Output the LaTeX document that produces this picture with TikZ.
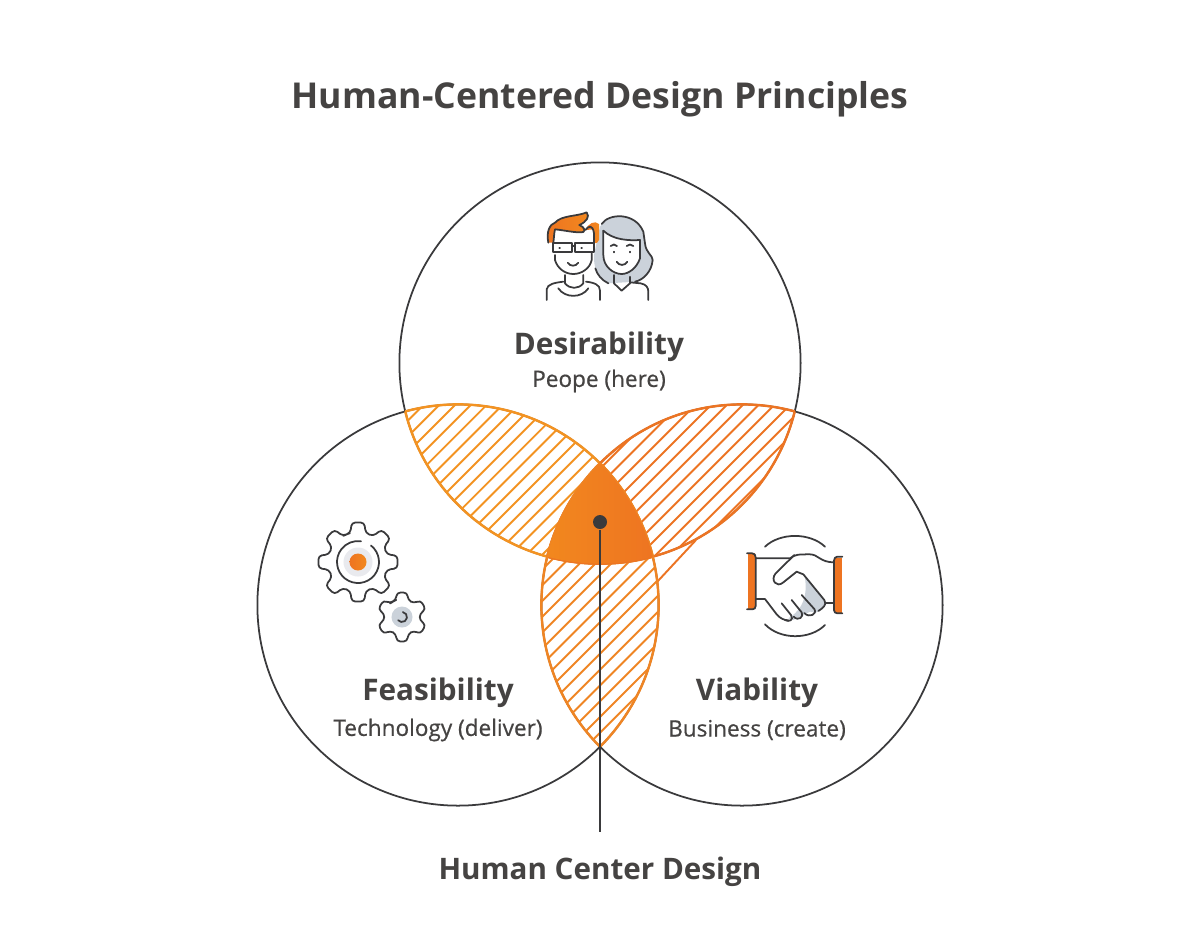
\documentclass[tikz,border=0pt]{standalone}
\usepackage{fontspec}
\setmainfont{Open Sans}
\newfontfamily\semifont[FakeBold=0.6]{Open Sans}
\definecolor{inkdark}{HTML}{3A3A3C}
\definecolor{textdark}{HTML}{454342}
\definecolor{hatchleft}{HTML}{F39322}
\definecolor{hatchright}{HTML}{EC7423}
\definecolor{hatchlow}{HTML}{EF8524}
\definecolor{orangea}{HTML}{F2881E}
\definecolor{orangeb}{HTML}{EE7421}
\definecolor{softgray}{HTML}{CBD2DA}
\definecolor{palegray}{HTML}{E9EAEE}
\tikzset{
  ring/.style={draw=inkdark, line width=0.5pt},
  hatchline/.style={line width=0.55pt},
  lensline/.style={line width=0.7pt},
  icon/.style={draw=inkdark, line width=0.5pt, line cap=round, line join=round},
  heading/.style={font=\bfseries\fontsize{10.13}{13}\selectfont, text=textdark, inner sep=0pt},
  topic/.style={font=\bfseries\fontsize{8.45}{10}\selectfont, text=textdark, inner sep=0pt},
  subtopic/.style={font=\semifont\fontsize{6.42}{8}\selectfont, text=textdark, inner sep=0pt},
  hub/.style={circle, fill=inkdark, inner sep=0pt, minimum size=0.14cm},
  hublabel/.style={font=\bfseries\fontsize{8.42}{11}\selectfont, text=textdark, inner sep=0pt, minimum height=0.79cm}
}
\newcommand{\cogwheel}[4]{% centre, teeth, outer radius, root radius
  \pgfmathsetmacro{\cogstep}{360/#2}
  \pgfmathsetmacro{\cogroot}{\cogstep*0.33}
  \pgfmathsetmacro{\cogtip}{\cogstep*0.20}
  \draw[icon, fill=white, rounded corners=1pt, shift={#1}] (-\cogstep*0.5-90:#4)
    \foreach \i in {1,...,#2} {
      -- ({\cogstep*(\i-1)-90-\cogroot}:#4) -- ({\cogstep*(\i-1)-90-\cogtip}:#3)
      -- ({\cogstep*(\i-1)-90+\cogtip}:#3) -- ({\cogstep*(\i-1)-90+\cogroot}:#4)
    } -- cycle;
}
\begin{document}
\begin{tikzpicture}[x=0.01cm, y=-0.01cm]
\useasboundingbox (0,0) rectangle (1200,950);
\def\ringtop{(600,363) circle [radius=2.005cm]}
\def\ringleft{(458,605) circle [radius=2.005cm]}
\def\ringright{(742,605) circle [radius=2.005cm]}

% circles
\draw[ring] \ringtop;
\draw[ring] \ringleft;
\draw[ring] \ringright;

% hatching
\begin{scope}
  \clip \ringtop; \clip \ringleft;
  \foreach \n in {-9,...,15} \draw[hatchline, hatchleft] ({939+15.8*\n},0) -- (0,{939+15.8*\n});
\end{scope}
\begin{scope}
  \clip \ringtop; \clip \ringright;
  \foreach \n in {-5,...,9} \draw[hatchline, hatchright] ({1116+15.8*\n},0) -- (0,{1116+15.8*\n});
\end{scope}
\begin{scope}
  \clip \ringleft; \clip \ringright;
  \foreach \n in {-5,...,14} \draw[hatchline, hatchlow] ({1159+15.8*\n},0) -- (0,{1159+15.8*\n});
\end{scope}
\draw[hatchline, hatchright] (657,582) -- (696,540);

% lens outlines
\begin{scope}
  \clip \ringleft; \draw[lensline, hatchleft] \ringtop;
\end{scope}
\begin{scope}
  \clip \ringtop; \draw[lensline, hatchleft] \ringleft;
\end{scope}
\begin{scope}
  \clip \ringright; \draw[lensline, hatchright] \ringtop;
\end{scope}
\begin{scope}
  \clip \ringtop; \draw[lensline, hatchright] \ringright;
\end{scope}
\begin{scope}
  \clip \ringleft; \draw[lensline, hatchlow] \ringright;
\end{scope}
\begin{scope}
  \clip \ringright; \draw[lensline, hatchlow] \ringleft;
\end{scope}

% centre
\begin{scope}
  \clip \ringtop; \clip \ringleft; \clip \ringright;
  \shade[left color=orangea, right color=orangeb] (545,460) rectangle (655,570);
\end{scope}

% people
\begin{scope}[shift={(520,200)}, scale=0.3333]
  \fill[softgray] (240,80) .. controls (265,40) and (345,35) .. (370,95) -- (375,130) .. controls (378,160) and (398,165) .. (398,180) .. controls (395,215) and (370,240) .. (345,245) -- (265,250) .. controls (235,235) and (220,205) .. (222,165) -- cycle;
  \fill[white] (250,92) .. controls (280,120) and (325,122) .. (360,120) -- (360,175) .. controls (350,205) and (325,222) .. (305,222) .. controls (280,222) and (250,200) .. (250,165) -- cycle;
  \draw[icon] (245,72) .. controls (265,40) and (345,35) .. (370,95) -- (375,130) .. controls (378,160) and (398,165) .. (398,180) .. controls (395,215) and (370,240) .. (345,245);
  \draw[icon] (265,250) .. controls (245,240) and (232,225) .. (226,205);
  \draw[icon] (250,92) .. controls (280,120) and (325,122) .. (360,120);
  \draw[icon] (360,120) -- (360,175) .. controls (350,205) and (325,222) .. (305,222) .. controls (280,222) and (250,200) .. (250,165) -- (250,92);
  \draw[icon] (272,138) .. controls (278,132) and (285,132) .. (291,138);
  \draw[icon] (320,138) .. controls (326,132) and (334,132) .. (340,138);
  \draw[icon] (282,155) -- (282,157);
  \draw[icon] (330,155) -- (330,157);
  \draw[icon] (290,185) .. controls (298,198) and (314,198) .. (322,185);
  \draw[icon] (282,225) -- (282,250) -- (305,272) -- (330,250) -- (330,230);
  \draw[icon] (330,247) -- (362,250) .. controls (378,253) and (385,262) .. (385,275) -- (385,300);
  \fill[white] (105,90) -- (222,80) -- (222,130) -- (105,130) -- cycle;
  \shade[left color=orangeb, right color=orangea] (196,90) .. controls (205,70) and (225,60) .. (237,72) -- (237,120) .. controls (236,128) and (228,130) .. (222,130) -- (222,88) -- cycle;
  \shade[left color=orangeb, right color=orangea] (85,128) .. controls (78,95) and (90,72) .. (105,68) .. controls (125,45) and (170,50) .. (200,37) .. controls (210,50) and (200,65) .. (178,75) .. controls (195,82) and (195,92) .. (190,96) .. controls (170,100) and (130,90) .. (105,88) .. controls (102,100) and (102,115) .. (100,128) -- cycle;
  \draw[icon] (85,128) .. controls (78,95) and (90,72) .. (105,68) .. controls (125,45) and (170,50) .. (200,37) .. controls (210,50) and (200,65) .. (178,75) .. controls (195,82) and (195,92) .. (190,96) .. controls (170,100) and (130,90) .. (105,88) .. controls (102,100) and (102,115) .. (100,128);
  \draw[icon] (196,90) .. controls (205,78) and (218,72) .. (222,100) -- (222,128);
  \draw[icon, fill=white] (98,130) rectangle (155,155);
  \draw[icon, fill=white] (165,130) rectangle (222,155);
  \draw[icon] (155,137) -- (165,137);
  \draw[icon] (118,143) -- (120,143);
  \draw[icon] (184,143) -- (186,143);
  \draw[icon] (105,165) -- (105,180) .. controls (112,205) and (135,222) .. (160,222) .. controls (185,222) and (210,205) .. (215,180) -- (215,160);
  \draw[icon] (143,188) .. controls (150,200) and (168,200) .. (175,188);
  \draw[icon] (135,225) -- (135,250) .. controls (150,268) and (175,268) .. (190,250) -- (190,225);
  \draw[icon] (80,300) -- (80,268) .. controls (82,252) and (105,248) .. (130,245);
  \draw[icon] (198,245) .. controls (225,248) and (240,255) .. (240,272) -- (240,300);
  \draw[icon] (115,265) .. controls (135,295) and (185,295) .. (205,265);
\end{scope}

% gears
\cogwheel{(358,562)}{8}{40}{30}
\fill[palegray] (358,562) circle [radius=0.145cm];
\shade[left color=orangeb, right color=orangea] (358,562) circle [radius=0.085cm];
\draw[icon] (358,562) ++(-52:21) arc [start angle=-52, end angle=278, radius=21];
\cogwheel{(402,617)}{6}{25}{18}
\fill[softgray] (402,617) circle [radius=0.105cm];
\draw[icon] (402,617) ++(-80:5) arc [start angle=-80, end angle=140, radius=5];

% handshake
\begin{scope}[shift={(735,525)}, scale=0.3333]
  \draw[icon] (90,65) .. controls (135,22) and (225,22) .. (270,65);
  \draw[icon] (90,298) .. controls (135,345) and (225,345) .. (270,300);
  \fill[softgray] (208,148) -- (268,225) -- (270,240) -- (245,262) -- (225,260) -- (200,272) -- (175,285) -- (160,280) .. controls (185,265) and (225,230) .. (208,148);
  \draw[icon] (62,100) -- (165,100) .. controls (180,88) and (190,88) .. (225,88) .. controls (250,88) and (255,112) .. (297,112);
  \draw[icon] (178,90) -- (122,145) .. controls (105,165) and (125,190) .. (145,172) -- (185,140) -- (205,148) -- (268,225) .. controls (278,240) and (262,250) .. (250,258);
  \draw[icon] (62,222) -- (90,222) -- (125,268) .. controls (135,280) and (148,286) .. (160,286);
  \draw[icon] (140,235) -- (168,270) .. controls (178,285) and (162,292) .. (150,285);
  \draw[icon] (170,225) -- (200,262) .. controls (208,275) and (190,290) .. (176,275);
  \draw[icon] (200,210) -- (238,252) .. controls (248,268) and (222,280) .. (208,264);
  \draw[icon] (270,235) -- (297,235);
  \fill[orangeb] (38,85) rectangle (60,253);
  \fill[orangeb] (299,98) rectangle (320,264);
  \draw[icon] (36,85) -- (52,85) .. controls (58,85) and (62,90) .. (62,97) -- (62,243) .. controls (62,249) and (58,253) .. (52,253) -- (36,253);
  \draw[icon] (322,95) -- (307,95) .. controls (301,95) and (297,100) .. (297,107) -- (297,255) .. controls (297,261) and (301,265) .. (307,265) -- (322,265);
\end{scope}

% texts
\node[heading] (title) at (600,99) {Human-Centered Design Principles};
\node[topic] (desire) at (599,347) {Desirability};
\node[subtopic] (desiresub) at (599,381) {Peope (here)};
\node[topic] (feasible) at (438,693) {Feasibility};
\node[subtopic] (feasiblesub) at (438,730) {Technology (deliver)};
\node[topic] (viable) at (757,693) {Viability};
\node[subtopic] (viablesub) at (757,730) {Business (create)};

% hub and its label
\node[hub] (hubdot) at (600,522) {};
\node[hublabel] (hubtext) at (600,872) {Human Center Design};
\draw[ring] (hubdot) -- (hubtext.north);
\end{tikzpicture}
\end{document}
